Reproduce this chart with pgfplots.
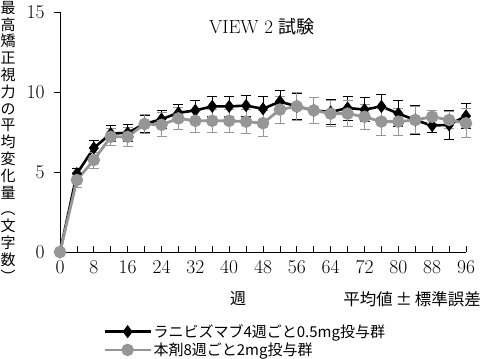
\documentclass[border=0pt]{standalone}
\usepackage{pgfplots}
\pgfplotsset{compat=1.18}
\usepackage{pgfplotstable}
\usepackage{fontspec}
\newfontfamily\jp{Noto Sans CJK JP}
\definecolor{gr}{RGB}{150,150,150}
\pgfplotstableread{
week black berr gray gerr
0 0 0 0 0
4 4.9 0.35 4.5 0.45
8 6.5 0.45 5.75 0.5
12 7.4 0.5 7.2 0.55
16 7.45 0.55 7.2 0.6
20 8.0 0.55 8.0 0.6
24 8.3 0.55 7.95 0.75
28 8.7 0.55 8.35 0.7
32 8.85 0.6 8.2 0.7
36 9.1 0.65 8.2 0.7
40 9.1 0.65 8.2 0.7
44 9.15 0.65 8.15 0.75
48 8.95 0.75 8.05 0.8
52 9.4 0.7 8.9 0.85
56 9.1 0.8 9.1 0.85
60 8.85 0.8 8.85 0.8
64 8.75 0.8 8.65 0.8
68 9.0 0.75 8.65 0.8
72 8.9 0.75 8.45 0.8
76 9.1 0.75 8.15 0.85
80 8.65 0.8 8.15 0.85
84 8.25 0.9 8.25 0.85
88 7.9 0.4 8.45 0.4
92 7.95 0.9 8.25 0.55
96 8.5 0.8 8.05 0.9
}\data
\begin{document}
\begin{tikzpicture}
\path[use as bounding box] (0bp,0bp) rectangle (482bp,-359bp);
\begin{axis}[
  at={(60bp,-252bp)}, anchor=south west,
  scale only axis, width=406bp, height=240bp,
  xmin=0, xmax=96, ymin=0, ymax=15,
  clip=false,
  axis x line=bottom, axis y line=left,
  axis line style={-, line width=0.9bp},
  xtick={0,8,...,96}, minor xtick={4,12,...,92},
  ytick={0,5,10,15},
  xtick align=inside, ytick align=outside,
  major tick length=6bp, minor tick length=6bp,
  tick style={line width=0.8bp, black},
  /pgf/number format/assume math mode=true,
  tick label style={font=\fontsize{19.5bp}{19.5bp}\selectfont},
  xticklabel style={yshift=-5bp},
  yticklabel style={xshift=-6bp},
  legend cell align=left,
  legend style={at={(axis description cs:0.106,-0.295)}, anchor=north west,
    draw=none, fill=none, inner sep=0pt, row sep=1bp,
    font=\jp\fontsize{15bp}{15bp}\selectfont,
    nodes={inner sep=1.5bp}},
  legend image code/.code={\draw[mark repeat=2,mark phase=2,#1] plot coordinates {(0bp,0bp)(23bp,0bp)(46bp,0bp)};},
]
\addplot[black, line width=2.6bp, mark=diamond*, mark size=4.5bp,
  mark options={solid},
  error bars/.cd, y dir=both, y explicit,
  error bar style={line width=0.8bp, black},
  error mark options={rotate=90, mark size=5bp, line width=0.8bp, black}]
  table[x=week, y=black, y error=berr] {\data};
\addlegendentry{ラニビズマブ4週ごと0.5mg投与群}
\addplot[gr, line width=2.8bp, mark=*, mark size=4.8bp,
  mark options={solid, fill=gr, draw=gr},
  error bars/.cd, y dir=both, y explicit,
  error bar style={line width=0.8bp, gr},
  error mark options={rotate=90, mark size=5bp, line width=0.8bp, gr}]
  table[x=week, y=gray, y error=gerr] {\data};
\addlegendentry{本剤8週ごと2mg投与群}
\end{axis}
\node at (262bp,-27bp) {\fontsize{19bp}{19bp}\selectfont VIEW 2 {\jp\fontsize{18bp}{18bp}\selectfont 試験}};
\node[anchor=north, align=center, inner sep=0pt, font=\jp\fontsize{15bp}{16.8bp}\selectfont]
  at (8bp,-1bp) {最\\高\\矯\\正\\視\\力\\の\\平\\均\\変\\化\\量\\︵\\文\\字\\数\\︶};
\node[font=\jp\fontsize{16bp}{16bp}\selectfont] at (238bp,-299bp) {週};
\node[anchor=east, inner sep=0pt, font=\jp\fontsize{16.5bp}{16.5bp}\selectfont] at (481bp,-299bp) {平均値\,±\,標準誤差};
\end{tikzpicture}
\end{document}
